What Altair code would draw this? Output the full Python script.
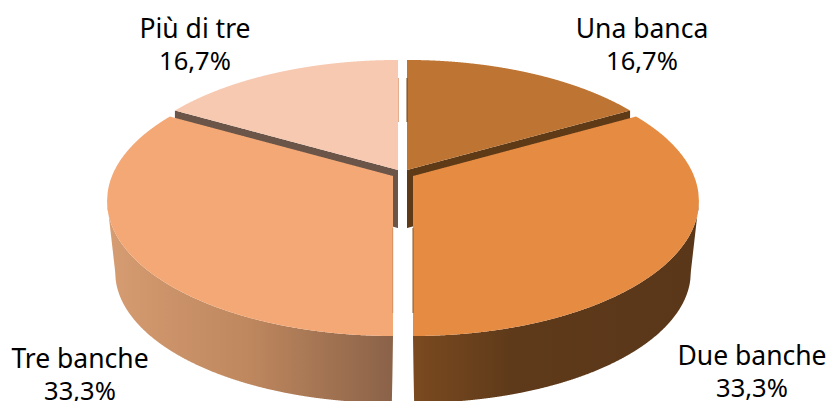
import numpy as np
import pandas as pd
import altair as alt

# Chart values
categories = ["Una banca", "Due banche", "Tre banche", "Più di tre"]
shares = [16.7, 33.3, 33.3, 16.7]
share_labels = ["16,7%", "33,3%", "33,3%", "16,7%"]

# Face and side colours for each slice
top_colors = ["#BE7533", "#E68B42", "#F4A876", "#F7C9B1"]
inner_wall_colors = ["#5E3A17", None, None, "#6B5548"]

W, H = 828, 401
# Perspective of the pie disc
S, T, K = 281.0, 130.4, 0.185
BOTTOM_SCALE = 0.968
DEPTH = 72.0
INNER_DEPTH = 58.0
# Apex of each exploded slice
apex = {"Una banca": (407.0, 170.0), "Due banche": (413.0, 176.0),
        "Tre banche": (393.0, 176.0), "Più di tre": (398.0, 170.0)}

edges = np.concatenate([[0.0], np.cumsum(shares)]) / sum(shares) * 360.0
span = {c: (edges[i], edges[i + 1]) for i, c in enumerate(categories)}


def rim(theta, ax, ay, scale=1.0):
    r = np.radians(theta)
    d = 1 + K * np.cos(r)
    return ax + scale * S * np.sin(r) / d, ay - scale * T * np.cos(r) / d


def spans(px, py, name):
    """Turn a polygon into x / y / y2 rows for an area mark."""
    px, py = np.round(px, 3), np.round(py, 3)
    xs = np.linspace(px.min(), px.max(), 500)
    rows = []
    qx, qy = np.roll(px, -1), np.roll(py, -1)
    for x in xs:
        hits = []
        for x1, y1, x2, y2 in zip(px, py, qx, qy):
            if min(x1, x2) <= x <= max(x1, x2):
                if x1 == x2:
                    hits += [y1, y2]
                else:
                    hits.append(y1 + (x - x1) / (x2 - x1) * (y2 - y1))
        rows.append({"x": x, "y": min(hits), "y2": max(hits), "slice": name})
    return pd.DataFrame(rows)


def top_face(name):
    a, b = span[name]
    ax, ay = apex[name]
    th = np.linspace(a, b, 240)
    rx, ry = rim(th, ax, ay)
    return spans(np.r_[ax, rx], np.r_[ay, ry], name)


def inner_wall(name):
    """Cut side of a back slice, seen between it and the front slice."""
    a, b = span[name]
    ax, ay = apex[name]
    edge = a if name == "Più di tre" else b
    ex, ey = rim(edge, ax, ay)
    return spans(np.array([ax, ex, ex, ax]),
                 np.array([ay, ey, ey + INNER_DEPTH, ay + INNER_DEPTH]), name)


def outer_wall(name, bottom_ax):
    """Crescent of the rim wall between the disc edge and its lower outline."""
    ax, ay = apex[name]
    turn = np.degrees(np.arccos(-K))
    if name == "Due banche":
        th = np.linspace(turn, 180.0, 200)
    else:
        th = np.linspace(180.0, 360.0 - turn, 200)
    tx, ty = rim(th, ax, ay)
    bx, by = rim(th[::-1], bottom_ax, ay + DEPTH, BOTTOM_SCALE)
    return spans(np.r_[tx, bx], np.r_[ty, by], name)


x_enc = alt.X("x:Q", axis=None, scale=alt.Scale(domain=[0, W], nice=False, zero=False))
y_enc = alt.Y("y:Q", axis=None, scale=alt.Scale(domain=[H, 0], nice=False, zero=False))


def area(df, fill):
    return alt.Chart(df).mark_area(color=fill, clip=True, strokeWidth=0, interpolate="linear").encode(
        x=x_enc, y=y_enc, y2="y2:Q")


def shade(stops):
    return alt.Gradient(
        gradient="linear", x1=0, x2=1, y1=0, y2=0,
        stops=[alt.GradientStop(color=c, offset=o) for o, c in stops])


layers = [
    area(inner_wall("Più di tre"), inner_wall_colors[3]),
    area(inner_wall("Una banca"), inner_wall_colors[0]),
    area(outer_wall("Tre banche", 392.0),
         shade([(0, "#D69C72"), (0.5, "#BE875E"), (1, "#8A6248")])),
    area(outer_wall("Due banche", 414.0),
         shade([(0, "#7B4A20"), (0.35, "#5E3A1A"), (1, "#5A3719")])),
]
layers += [area(top_face(c), top_colors[i]) for i, c in enumerate(categories)]

# Thin shaded lips along the cut edges of the slices
lips = pd.DataFrame({
    "x": [407.0, 398.5, 413.0, 392.7],
    "y": [78, 78, 228, 228],
    "y2": [122, 122, 313, 313],
    "tone": ["#6A4018", "#E3AE90", "#8A5526", "#D98F5E"],
})
layers.append(
    alt.Chart(lips).mark_rule(strokeWidth=1).encode(
        x=x_enc, y=y_enc, y2="y2:Q", color=alt.Color("tone:N", scale=None))
)

# Slice captions: name above, share below
label_x = [642, 752, 80, 195]
label_name_y = [38, 365, 368, 38]
label_share_y = [70, 397, 400, 70]


def captions(texts, ys, size):
    df = pd.DataFrame({"x": label_x, "y": ys, "text": texts})
    return alt.Chart(df).mark_text(
        font="Noto Sans", fontSize=size, color="#000000", align="center",
        baseline="alphabetic", clip=True,
    ).encode(x=x_enc, y=y_enc, text="text:N")


layers.append(captions(categories, label_name_y, 26.5))
layers.append(captions(share_labels, label_share_y, 25.5))

chart = alt.layer(*layers).properties(
    width=W, height=H, padding=0,
    autosize=alt.AutoSizeParams(type="none"),
).configure_view(stroke=None)

chart.save("out.html", embed_options={"renderer": "svg", "actions": False})
